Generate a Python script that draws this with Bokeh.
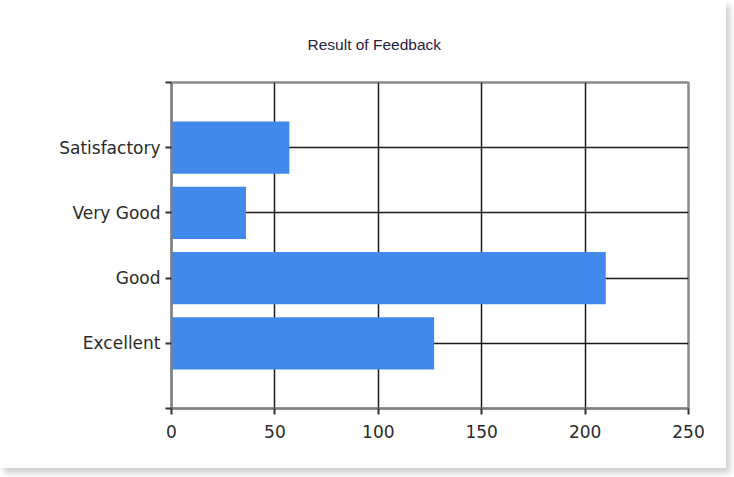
from bokeh.plotting import figure
from bokeh.models import Range1d, FixedTicker
from bokeh.embed import file_html
from bokeh.resources import INLINE

categories = ["Excellent", "Good", "Very Good", "Satisfactory"]
values = [127, 210, 36, 57]
positions = [1, 2, 3, 4]
x_ticks = [0, 50, 100, 150, 200, 250]

p = figure(width=726, height=468, output_backend="svg", toolbar_location=None,
           x_range=Range1d(0, 250), y_range=Range1d(0, 5),
           min_border_left=171, min_border_right=38, min_border_top=82, min_border_bottom=60,
           title="Result of Feedback")
p.styles = {"box-shadow": "4px 5px 6px #cfcfcf"}

p.title.align = "left"
p.title.offset = 136
p.title.standoff = 59
p.title.text_font = "Liberation Sans"
p.title.text_font_size = "15.5px"
p.title.text_font_style = "normal"
p.title.text_color = "#2a2040"

p.hbar(y=positions, right=values, left=0, height=0.8, color="#418AEC", line_color=None)

# axes
p.xaxis.ticker = FixedTicker(ticks=x_ticks)
p.yaxis.ticker = FixedTicker(ticks=[0, 1, 2, 3, 4, 5])
p.yaxis.major_label_overrides = {0: "", 1: categories[0], 2: categories[1], 3: categories[2], 4: categories[3], 5: ""}
p.yaxis.minor_tick_line_color = None
p.xaxis.minor_tick_line_color = None
for ax in (p.xaxis, p.yaxis):
    ax.axis_line_color = "#808080"
    ax.axis_line_width = 2
    ax.major_tick_line_color = "#333333"
    ax.major_tick_line_width = 2
    ax.major_tick_in = 0
    ax.major_tick_out = 6
    ax.major_label_text_font = "DejaVu Sans"
    ax.major_label_text_font_size = "17px"
    ax.major_label_text_color = "#2a2a2a"
p.xaxis.major_label_standoff = 10
p.yaxis.major_label_standoff = 5

# grid
p.xgrid.ticker = FixedTicker(ticks=x_ticks)
p.ygrid.ticker = FixedTicker(ticks=positions)
p.grid.grid_line_color = "#1a1a1a"
p.grid.grid_line_width = 1.5
p.grid.level = "underlay"

p.outline_line_color = "#8a8a8a"
p.outline_line_width = 2.5

open("out.html", "w").write(file_html(p, INLINE))
